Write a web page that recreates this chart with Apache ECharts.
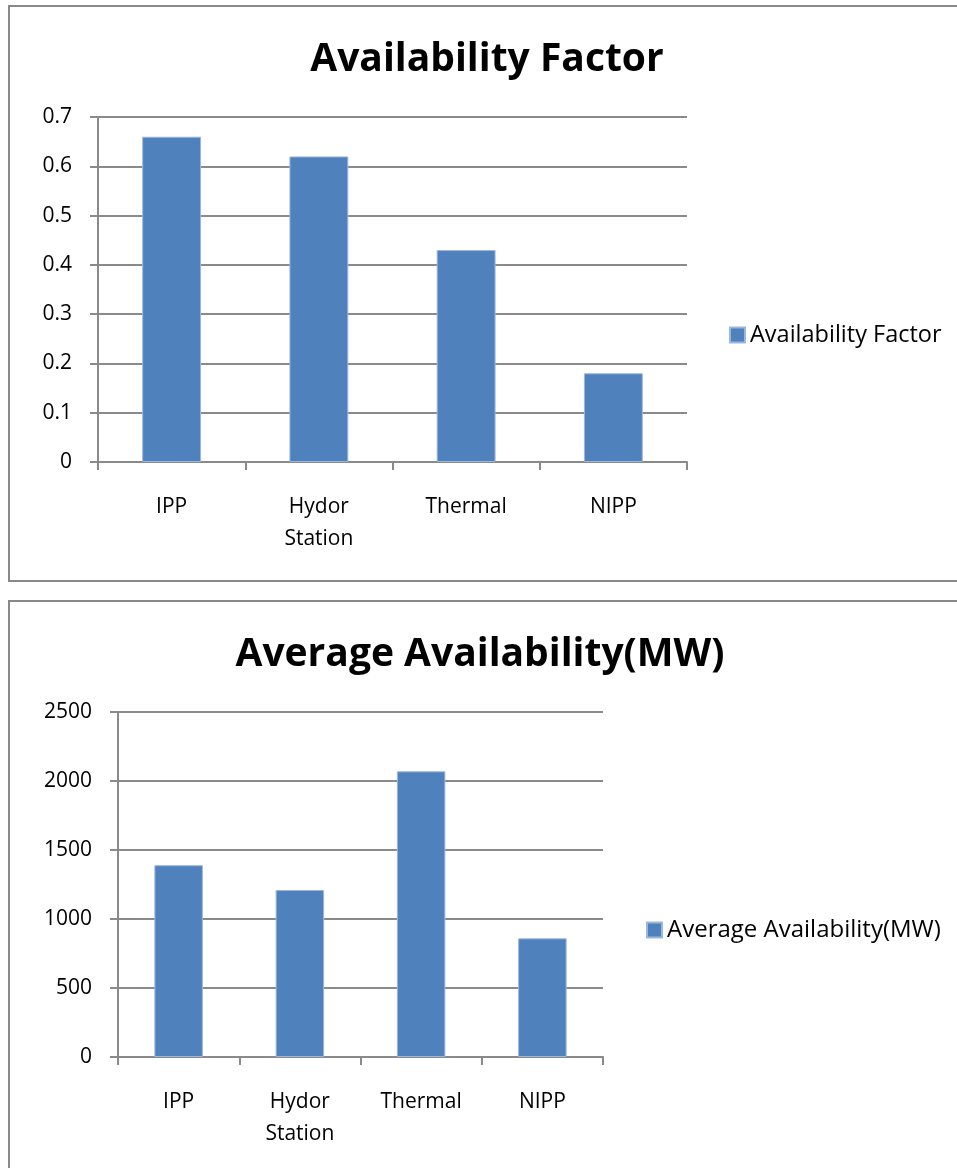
<!DOCTYPE html>
<html>
<head>
<meta charset="utf-8">
<script src="https://cdn.jsdelivr.net/npm/echarts@6/dist/echarts.min.js"></script>
<style>
  html, body { margin: 0; padding: 0; background: #fff; overflow: hidden; width: 957px; height: 1168px; }
  .box { position: absolute; border: 2px solid #898989; background: #fff; }
  #b1 { left: 8px; top: 5px; width: 974px; height: 573px; }
  #b2 { left: 8px; top: 600px; width: 974px; height: 600px; }
  .chart { position: absolute; left: 0; top: 0; }
  #c1 { width: 954px; height: 573px; }
  #c2 { width: 940px; height: 600px; }
</style>
</head>
<body>
<div id="b1" class="box"><div id="c1" class="chart"></div></div>
<div id="b2" class="box"><div id="c2" class="chart"></div></div>
<script>
// ---- data ----
const categories = ['IPP', 'Hydor Station', 'Thermal', 'NIPP'];
const availabilityFactor = [0.66, 0.62, 0.43, 0.18];
const averageAvailabilityMW = [1390, 1210, 2070, 860];
const titleFactor = 'Availability Factor';
const titleAverage = 'Average Availability(MW)';
const factorScale = { min: 0, max: 0.7, interval: 0.1 };
const averageScale = { min: 0, max: 2500, interval: 500 };

// ---- styles ----
const FONT = 'Open Sans';
const GRAY = '#8a8a8a';
const BAR = '#4f81bd';

function makeOption(title, seriesName, values, scale, gridLeft, gridWidth, legendLeft, legendSize) {
  return {
    animation: false,
    title: {
      text: title, left: 'center', top: 33, padding: 0,
      textStyle: { fontFamily: FONT, fontWeight: 'bold', fontSize: 39, color: '#000' }
    },
    legend: {
      data: [seriesName], left: legendLeft, top: 316, padding: 0,
      icon: 'rect', itemWidth: 15, itemHeight: 15,
      textStyle: { fontFamily: FONT, fontSize: legendSize, color: '#000' }
    },
    grid: { left: gridLeft, top: 110, width: gridWidth, height: 345, containLabel: false },
    xAxis: {
      type: 'category', data: categories, boundaryGap: true,
      axisLine: { show: true, lineStyle: { color: GRAY, width: 2 } },
      axisTick: { show: true, length: 8, interval: 0, lineStyle: { color: GRAY, width: 2 } },
      axisLabel: {
        interval: 0, margin: 29, fontFamily: FONT, fontSize: 21, color: '#000', lineHeight: 32,
        formatter: v => v.replace(' ', '\n')
      }
    },
    yAxis: {
      type: 'value', min: scale.min, max: scale.max, interval: scale.interval,
      axisLine: { show: true, lineStyle: { color: GRAY, width: 2 } },
      axisTick: { show: true, length: 8, lineStyle: { color: GRAY, width: 2 } },
      splitLine: { show: true, lineStyle: { color: GRAY, width: 2 } },
      axisLabel: { margin: 26, fontFamily: FONT, fontSize: 21, color: '#000', formatter: v => String(v) }
    },
    series: [{
      name: seriesName, type: 'bar', data: values, barWidth: '40%',
      itemStyle: { color: BAR, borderColor: '#9cb7de', borderWidth: 1 }
    }]
  };
}

const ch1 = echarts.init(document.getElementById('c1'), null, { renderer: 'canvas' });
ch1.setOption(makeOption(titleFactor, titleFactor, availabilityFactor, factorScale, 88, 589, 719, 23.5));
const ch2 = echarts.init(document.getElementById('c2'), null, { renderer: 'canvas' });
ch2.setOption(makeOption(titleAverage, titleAverage, averageAvailabilityMW, averageScale, 108, 485, 636, 24));
</script>
</body>
</html>
